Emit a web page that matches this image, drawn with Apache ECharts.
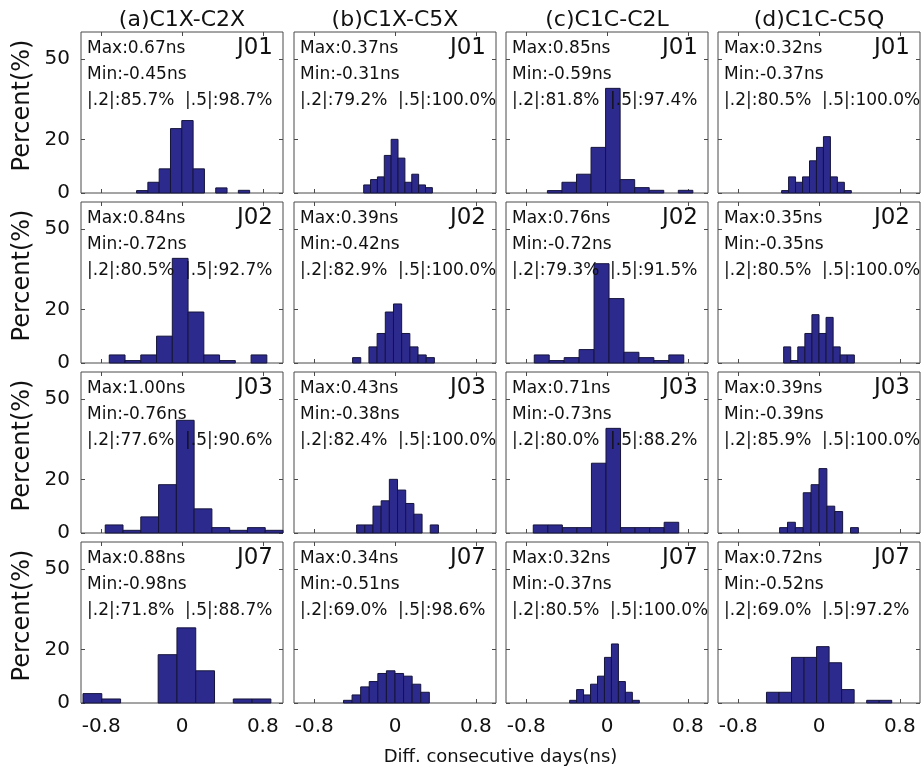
<!DOCTYPE html>
<html><head><meta charset="utf-8">
<script src="https://cdn.jsdelivr.net/npm/echarts@6/dist/echarts.min.js"></script>
<style>html,body{margin:0;padding:0;background:#fff}#c{width:921px;height:774px}</style>
</head><body><div id="c"></div>
<script>
// ---------------- data ----------------
const columnTitles = ['(a)C1X-C2X', '(b)C1X-C5X', '(c)C1C-C2L', '(d)C1C-C5Q'];
const stations = ['J01', 'J02', 'J03', 'J07'];
const xTicks = [-0.8, 0, 0.8];
const yTicks = [0, 20, 50];
const xAxisTitle = 'Diff. consecutive days(ns)';
const yAxisTitle = 'Percent(%)';

// rows = stations, columns = signal combos
const maxNs = [[0.67, 0.37, 0.85, 0.32], [0.84, 0.39, 0.76, 0.35], [1.00, 0.43, 0.71, 0.39], [0.88, 0.34, 0.32, 0.72]];
const minNs = [[-0.45, -0.31, -0.59, -0.37], [-0.72, -0.42, -0.72, -0.35], [-0.76, -0.38, -0.73, -0.39], [-0.98, -0.51, -0.37, -0.52]];
const within02 = [[85.7, 79.2, 81.8, 80.5], [80.5, 82.9, 79.3, 80.5], [77.6, 82.4, 80.0, 85.9], [71.8, 69.0, 80.5, 69.0]];
const within05 = [[98.7, 100.0, 97.4, 100.0], [92.7, 100.0, 91.5, 100.0], [90.6, 100.0, 88.2, 100.0], [88.7, 98.6, 100.0, 97.2]];

// histogram percentages, 10 equal bins from Min to Max
const pctJ01 = [
  [0.9, 4, 9, 24, 27, 9, 0, 1.9, 0, 1],
  [3, 5, 6, 14, 20, 13, 4, 7, 3, 2],
  [0.9, 4, 7, 17, 39, 5, 2, 1, 0, 1],
  [0.9, 6, 4, 6, 12, 17, 21, 6, 4, 0.9]
];
const pctJ02 = [
  [3, 0.9, 3, 10, 39, 19, 3, 0.9, 0, 3],
  [2, 0, 6, 11, 19, 22, 11, 6, 3, 2],
  [3, 0.9, 2, 5, 37, 24, 4, 2, 0.9, 3],
  [6, 0.9, 6, 11, 18, 11, 17, 6, 3, 3]
];
const pctJ03 = [
  [3, 1, 6, 18, 42, 9, 2, 1, 2, 1],
  [3, 3, 10, 12, 20, 16, 11, 7, 0, 3],
  [3, 3, 2, 2, 26, 39, 2, 2, 2, 4],
  [2, 4, 2, 15, 18, 24, 10, 8, 0, 2]
];
const pctJ07 = [
  [3.5, 1.5, 0, 0, 18, 28, 12, 0, 1.5, 1.5],
  [1, 3, 6, 8, 11, 12, 11, 10, 7, 4],
  [1, 5, 3, 7, 10, 17, 22, 8, 4, 1],
  [4, 4, 17, 17, 21, 15, 5, 0, 1, 1]
];
const pctAll = [pctJ01, pctJ02, pctJ03, pctJ07];

// ---------------- layout ----------------
const L = [81, 294, 506, 718], T = [32, 202, 372, 542], W = 202, H = 161;
const FONT = 'DejaVu Sans';
const INK = '#111';
const FRAME = '#4a4a4a';
const BAR = '#2d2a8e';

const grids = [], xAxes = [], yAxes = [], series = [], graphics = [];

function renderBar(params, api) {
  const h = api.value(2);
  if (!h) return null;
  const p0 = api.coord([api.value(0), 0]);
  const p1 = api.coord([api.value(1), h]);
  return {
    type: 'rect',
    shape: { x: p0[0], y: p1[1], width: p1[0] - p0[0], height: p0[1] - p1[1] },
    style: { fill: BAR, stroke: '#15143a', lineWidth: 1 }
  };
}

for (let r = 0; r < 4; r++) {
  for (let c = 0; c < 4; c++) {
    const gi = grids.length;
    grids.push({ left: L[c], top: T[r], width: W, height: H, show: true, borderColor: FRAME, borderWidth: 1, backgroundColor: '#fff' });
    const tickStyle = { inside: true, length: 4, lineStyle: { color: FRAME, width: 1 } };
    const noLine = { show: false, onZero: false };
    xAxes.push({
      gridIndex: gi, type: 'value', min: -1, max: 1, position: 'bottom',
      axisLine: noLine, splitLine: { show: false },
      axisTick: Object.assign({ customValues: xTicks }, tickStyle),
      axisLabel: { show: r === 3, customValues: xTicks, fontSize: 20, fontFamily: FONT, color: INK, margin: 14 }
    });
    xAxes.push({
      gridIndex: gi, type: 'value', min: -1, max: 1, position: 'top',
      axisLine: noLine, splitLine: { show: false },
      axisTick: Object.assign({ customValues: xTicks }, tickStyle),
      axisLabel: { show: false }
    });
    yAxes.push({
      gridIndex: gi, type: 'value', min: 0, max: 60, position: 'left',
      axisLine: noLine, splitLine: { show: false },
      axisTick: Object.assign({ customValues: yTicks }, tickStyle),
      axisLabel: { show: c === 0, customValues: yTicks, fontSize: 20, fontFamily: FONT, color: INK, margin: 11 }
    });
    yAxes.push({
      gridIndex: gi, type: 'value', min: 0, max: 60, position: 'right',
      axisLine: noLine, splitLine: { show: false },
      axisTick: Object.assign({ customValues: yTicks }, tickStyle),
      axisLabel: { show: false }
    });

    const mn = minNs[r][c], mx = maxNs[r][c];
    const pct = pctAll[r][c];
    const w = (mx - mn) / pct.length;
    const data = pct.map((p, i) => [mn + i * w, mn + (i + 1) * w, p]);
    series.push({
      type: 'custom', xAxisIndex: 2 * gi, yAxisIndex: 2 * gi,
      renderItem: renderBar, data: data, encode: { x: [0, 1], y: 2 }, silent: true
    });

    // annotations
    const tx = L[c] + 6, ty = T[r];
    const ann = { fontSize: 17, fontFamily: FONT, fill: INK };
    graphics.push({ type: 'text', left: tx, top: ty + 8, z: 100, style: Object.assign({ text: 'Max:' + mx.toFixed(2) + 'ns' }, ann) });
    graphics.push({ type: 'text', left: tx, top: ty + 34, z: 100, style: Object.assign({ text: 'Min:' + mn.toFixed(2) + 'ns' }, ann) });
    graphics.push({ type: 'text', left: tx, top: ty + 60, z: 100, style: Object.assign({ text: '|.2|:' + within02[r][c].toFixed(1) + '%' }, ann) });
    graphics.push({ type: 'text', left: L[c] + 104, top: ty + 60, z: 100, style: Object.assign({ text: '|.5|:' + within05[r][c].toFixed(1) + '%' }, ann) });
    graphics.push({ type: 'text', right: 921 - (L[c] + W - 10), top: ty + 5, z: 100, style: { text: stations[r], fontSize: 23, fontFamily: FONT, fill: INK } });
  }
}

// column titles
for (let c = 0; c < 4; c++) {
  graphics.push({ type: 'text', x: L[c] + W / 2, y: 20, z: 100,
    style: { text: columnTitles[c], fontSize: 22, fontFamily: FONT, fill: INK, textAlign: 'center', textVerticalAlign: 'middle' } });
}
// y titles
for (let r = 0; r < 4; r++) {
  graphics.push({ type: 'text', x: 23, y: T[r] + H / 2 - 7, rotation: Math.PI / 2, z: 100,
    style: { text: yAxisTitle, fontSize: 24, fontFamily: FONT, fill: INK, textAlign: 'center', textVerticalAlign: 'middle' } });
}
// x title
graphics.push({ type: 'text', x: (L[0] + L[3] + W) / 2, y: 757, z: 100,
  style: { text: xAxisTitle, fontSize: 18, fontFamily: FONT, fill: INK, textAlign: 'center', textVerticalAlign: 'middle' } });

const chart = echarts.init(document.getElementById('c'));
chart.setOption({
  backgroundColor: '#fff',
  animation: false,
  grid: grids, xAxis: xAxes, yAxis: yAxes, series: series, graphic: graphics
});
</script>
</body></html>
